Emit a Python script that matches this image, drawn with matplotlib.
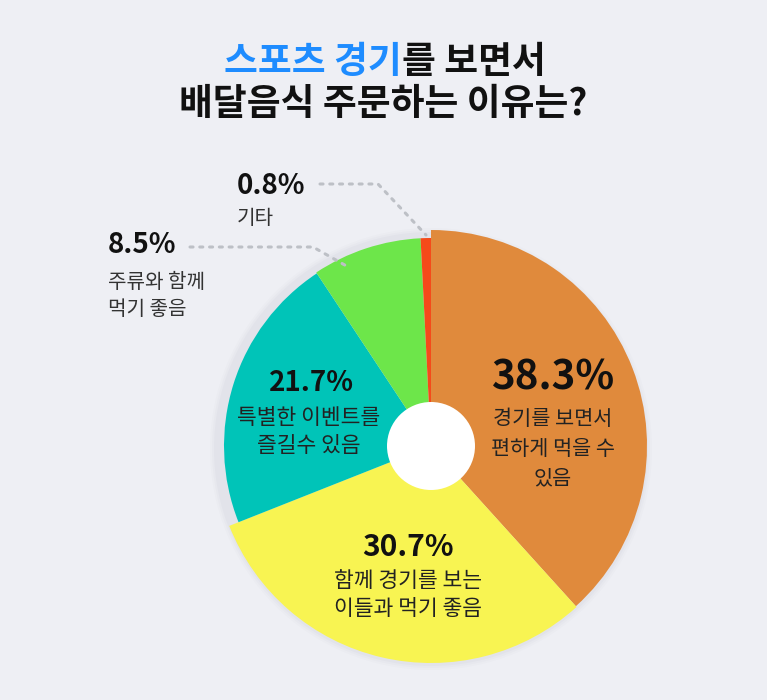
import matplotlib.pyplot as plt
from matplotlib.patches import Circle

plt.rcParams['font.family'] = ['Noto Sans CJK KR', 'DejaVu Sans']

# 데이터
labels = ['경기를 보면서\n편하게 먹을 수\n있음', '함께 경기를 보는\n이들과 먹기 좋음',
          '특별한 이벤트를\n즐길수 있음', '주류와 함께\n먹기 좋음', '기타']
values = [38.3, 30.7, 21.7, 8.5, 0.8]
colors = ['#e08a3c', '#f8f452', '#00c4b8', '#6de64a', '#f54a1a']
radii = [216, 217, 207, 208, 208]

W, H = 767, 700
cx, cy = 431, 446

fig = plt.figure(figsize=(W / 100, H / 100), dpi=100)
fig.patch.set_facecolor('#eeeff4')
ax = fig.add_axes([0, 0, 1, 1])


def Y(y):
    return H - y


# 그림자
for i, a in enumerate([0.05, 0.04, 0.03]):
    ax.add_patch(Circle((cx, Y(cy) - 3), 217 + 2 * i, color='#9096a8', alpha=a, lw=0, zorder=0))

wedges, _ = ax.pie(values, colors=colors, startangle=90, counterclock=False,
                   center=(cx, Y(cy)), radius=217, frame=True,
                   wedgeprops=dict(linewidth=0))
for w, r in zip(wedges, radii):
    w.set_radius(r)
    w.set_zorder(2)
ax.set_xlim(0, W)
ax.set_ylim(0, H)
ax.set_aspect('equal')
ax.axis('off')

ax.add_patch(Circle((cx, Y(cy)), 44, color='white', lw=0, zorder=3))

# 제목
fig.canvas.draw()
r = fig.canvas.get_renderer()
title_kw = dict(fontsize=26.5, fontweight='heavy', va='center', zorder=5)
t1 = ax.text(0, Y(62), '스포츠 경기', color='#1e8cff', ha='left', **title_kw)
t2 = ax.text(0, Y(62), '를 보면서', color='#111111', ha='left', **title_kw)
w1 = t1.get_window_extent(r).width
w2 = t2.get_window_extent(r).width
x0 = 385 - (w1 + w2) / 2
t1.set_x(x0)
t2.set_x(x0 + w1)
ax.text(383, Y(104), '배달음식 주문하는 이유는?', color='#111111', ha='center', **title_kw)

# 조각 안 라벨
ax.text(553, Y(378), f'{values[0]}%', fontsize=29, fontweight='bold', ha='center', va='center', color='#111111', zorder=5)
ax.text(553, Y(449), labels[0], fontsize=15, ha='center', va='center', color='#222222', linespacing=1.45, zorder=5)

ax.text(408, Y(547), f'{values[1]}%', fontsize=21.5, fontweight='bold', ha='center', va='center', color='#111111', zorder=5)
ax.text(408, Y(595), labels[1], fontsize=15.5, ha='center', va='center', color='#222222', linespacing=1.32, zorder=5)

ax.text(311, Y(383), f'{values[2]}%', fontsize=20, fontweight='bold', ha='center', va='center', color='#111111', zorder=5)
ax.text(309, Y(432), labels[2], fontsize=15.5, ha='center', va='center', color='#222222', linespacing=1.3, zorder=5)

# 바깥 라벨
ax.text(108, Y(245), f'{values[3]}%', fontsize=20, fontweight='bold', ha='left', va='center', color='#111111', zorder=5)
ax.text(108, Y(296), labels[3], fontsize=14.5, ha='left', va='center', color='#333333', linespacing=1.42, zorder=5)
ax.plot([190, 313, 350], [Y(247), Y(247), Y(268)], ls=(0, (1, 2.2)), lw=2.2, color='#bdc0c6',
        dash_capstyle='round', zorder=4)

ax.text(237, Y(186), f'{values[4]}%', fontsize=20, fontweight='bold', ha='left', va='center', color='#111111', zorder=5)
ax.text(237, Y(219), labels[4], fontsize=14.5, ha='left', va='center', color='#333333', zorder=5)
ax.plot([320, 378, 426], [Y(184), Y(184), Y(235)], ls=(0, (1, 2.2)), lw=2.2, color='#bdc0c6',
        dash_capstyle='round', zorder=4)

fig.savefig('out.png', dpi=100, facecolor=fig.get_facecolor())
